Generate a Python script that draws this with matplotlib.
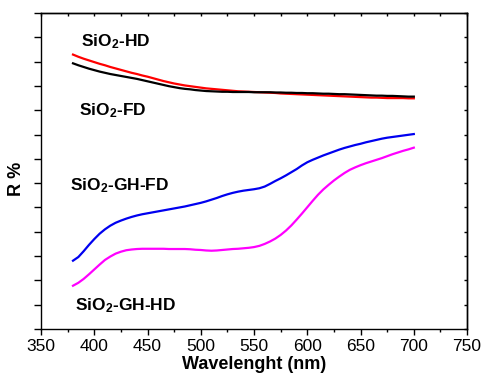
import numpy as np
import matplotlib
matplotlib.use('Agg')
import matplotlib.pyplot as plt
from matplotlib.ticker import MultipleLocator, NullFormatter

# Reflectance spectra (R %) read every 5 nm, 380-700 nm
wavelength = np.arange(380, 701, 5)

R_sio2_hd = [56.45, 56.0, 55.6, 55.25, 54.9, 54.55, 54.25, 53.9, 53.6, 53.3,
             53.0, 52.7, 52.45, 52.15, 51.9, 51.6, 51.3, 51.0, 50.75, 50.5,
             50.3, 50.1, 49.95, 49.8, 49.65, 49.5, 49.4, 49.3, 49.2, 49.1,
             49.0, 48.9, 48.85, 48.8, 48.75, 48.7, 48.65, 48.6, 48.55, 48.45,
             48.4, 48.35, 48.3, 48.25, 48.2, 48.15, 48.1, 48.05, 48.0, 47.95,
             47.9, 47.85, 47.8, 47.75, 47.7, 47.65, 47.6, 47.6, 47.55, 47.5,
             47.5, 47.5, 47.5, 47.45, 47.45]
R_sio2_fd = [54.65, 54.25, 53.9, 53.55, 53.25, 52.95, 52.7, 52.45, 52.25, 52.05,
             51.85, 51.65, 51.45, 51.2, 50.95, 50.7, 50.45, 50.2, 49.95, 49.75,
             49.55, 49.4, 49.3, 49.15, 49.05, 48.95, 48.9, 48.85, 48.8, 48.8,
             48.75, 48.75, 48.75, 48.75, 48.7, 48.7, 48.7, 48.7, 48.65, 48.65,
             48.6, 48.6, 48.55, 48.55, 48.5, 48.5, 48.45, 48.4, 48.4, 48.35,
             48.3, 48.3, 48.25, 48.2, 48.15, 48.1, 48.05, 48.0, 48.0, 47.95,
             47.95, 47.9, 47.85, 47.8, 47.8]
R_gh_fd = [14.05, 14.8, 16.0, 17.3, 18.5, 19.6, 20.5, 21.25, 21.85, 22.3,
           22.7, 23.05, 23.35, 23.6, 23.8, 24.0, 24.2, 24.4, 24.6, 24.8,
           25.0, 25.2, 25.45, 25.7, 25.95, 26.25, 26.6, 26.95, 27.35, 27.7,
           28.0, 28.25, 28.45, 28.6, 28.75, 28.95, 29.3, 29.85, 30.45, 31.0,
           31.6, 32.25, 32.9, 33.65, 34.3, 34.8, 35.25, 35.7, 36.1, 36.5,
           36.9, 37.25, 37.55, 37.85, 38.1, 38.4, 38.65, 38.9, 39.15, 39.35,
           39.5, 39.65, 39.8, 39.95, 40.1]
R_gh_hd = [8.9, 9.5, 10.3, 11.25, 12.25, 13.25, 14.2, 14.9, 15.5, 15.9,
           16.2, 16.35, 16.45, 16.5, 16.5, 16.5, 16.5, 16.5, 16.45, 16.45,
           16.45, 16.45, 16.4, 16.3, 16.25, 16.15, 16.1, 16.15, 16.25, 16.35,
           16.45, 16.5, 16.6, 16.7, 16.85, 17.1, 17.5, 18.0, 18.6, 19.35,
           20.25, 21.3, 22.5, 23.75, 25.05, 26.35, 27.6, 28.7, 29.65, 30.55,
           31.35, 32.1, 32.75, 33.25, 33.7, 34.1, 34.45, 34.8, 35.15, 35.55,
           35.95, 36.3, 36.65, 36.95, 37.3]

plt.rcParams['font.family'] = ['Liberation Sans', 'DejaVu Sans']
plt.rcParams['mathtext.fontset'] = 'custom'
plt.rcParams['mathtext.rm'] = 'Liberation Sans'
plt.rcParams['mathtext.bf'] = 'Liberation Sans:bold'
plt.rcParams['mathtext.default'] = 'bf'
plt.rcParams['axes.linewidth'] = 1.0

fig = plt.figure(figsize=(4.83, 3.85), dpi=100)
ax1 = fig.add_axes([0.085, 0.1455, 0.882, 0.8207])

ax1.plot(wavelength, R_sio2_hd, color='red', linewidth=1.6)
ax1.plot(wavelength, R_sio2_fd, color='black', linewidth=1.6)
ax1.plot(wavelength, R_gh_fd, color='#0000f0', linewidth=1.6)
ax1.plot(wavelength, R_gh_hd, color='#ff00ff', linewidth=1.6)

ax1.set_xlim(350, 750)
ax1.set_ylim(0, 65)

# bottom: labelled majors + short minors, outward
ax1.xaxis.set_major_locator(MultipleLocator(50))
ax1.xaxis.set_minor_locator(MultipleLocator(25))
ax1.tick_params(axis='x', which='major', direction='out', length=4, width=1,
                labelsize=12.5, pad=3, top=False)
ax1.tick_params(axis='x', which='minor', direction='out', length=2.5, width=1,
                top=False)
ax1.yaxis.set_major_locator(MultipleLocator(5))
ax1.yaxis.set_major_formatter(NullFormatter())
ax1.tick_params(axis='y', which='major', direction='out', length=5, width=1,
                right=False)

# top and right: small inward ticks, no labels
ax_top = ax1.secondary_xaxis('top')
ax_top.xaxis.set_major_locator(MultipleLocator(25))
ax_top.xaxis.set_major_formatter(NullFormatter())
ax_top.tick_params(direction='in', length=2, width=1)
ax_right = ax1.secondary_yaxis('right')
ax_right.yaxis.set_major_locator(MultipleLocator(5))
ax_right.yaxis.set_major_formatter(NullFormatter())
ax_right.tick_params(direction='in', length=2, width=1)

ax1.set_xlabel('Wavelenght (nm)', fontsize=13, fontweight='bold', labelpad=2)
ax1.set_ylabel('R %', fontsize=13, fontweight='bold')
ax1.yaxis.set_label_coords(-0.037, 0.475)

lab = dict(fontsize=12.5, fontweight='bold', va='baseline', ha='left')
ax1.text(387.5, 58.1, r'SiO$_{2}$-HD', **lab)
ax1.text(386, 44.0, r'SiO$_{2}$-FD', **lab)
ax1.text(377, 28.6, r'SiO$_{2}$-GH-FD', **lab)
ax1.text(382, 3.9, r'SiO$_{2}$-GH-HD', **lab)

fig.savefig('out.png', dpi=100)
